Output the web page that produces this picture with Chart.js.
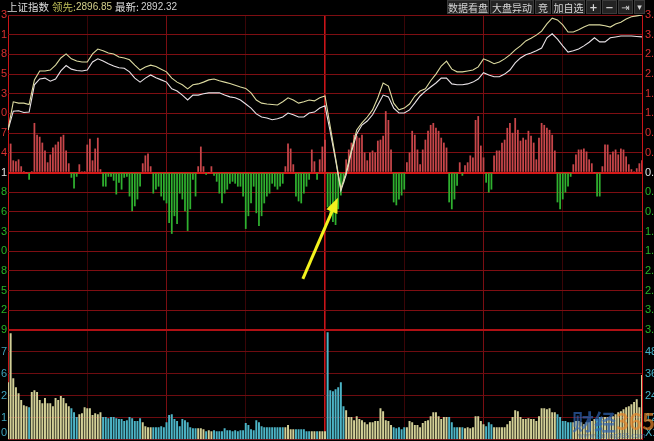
<!DOCTYPE html>
<html><head><meta charset="utf-8">
<script src="https://cdn.jsdelivr.net/npm/chart.js@4.4.1/dist/chart.umd.min.js"></script>
<style>
html,body{margin:0;padding:0;background:#000;}
#wrap{position:relative;width:654px;height:441px;overflow:hidden;background:#000;}
#c{position:absolute;left:0;top:0;}
.t{position:absolute;top:0;height:14px;line-height:14px;white-space:nowrap;font-family:"Liberation Sans",Arial,sans-serif;font-size:10px;}
.cn{font-family:"Noto Sans CJK SC",sans-serif;font-size:10.5px;}
.btn{position:absolute;top:0;height:14px;line-height:13px;background:#232323;border:1px solid #3a3a3a;color:#d6d6d6;font-family:"Noto Sans CJK SC",sans-serif;font-size:10px;text-align:center;box-sizing:border-box;white-space:nowrap;overflow:hidden;}
.wm{position:absolute;font-family:"Noto Sans CJK SC",sans-serif;font-weight:bold;opacity:.7;white-space:nowrap;}
</style></head>
<body><div id="wrap">
<canvas id="c" width="654" height="441"></canvas>
<div class="t cn" style="left:7px;color:#dcdcdc">上证指数</div>
<div class="t cn" style="left:52px;color:#c2c25a">领先:</div>
<div class="t" style="left:76px;color:#d4d08c">2896.85</div>
<div class="t cn" style="left:115px;color:#dcdcdc">最新:</div>
<div class="t" style="left:141px;color:#cfcfcf">2892.32</div>
<div class="btn" style="left:447px;width:42px">数据看盘</div>
<div class="btn" style="left:490px;width:44px">大盘异动</div>
<div class="btn" style="left:535px;width:16px">竞</div>
<div class="btn" style="left:552px;width:33px">加自选</div>
<div class="btn" style="left:586px;width:15px;font-family:'DejaVu Sans';font-weight:bold">+</div>
<div class="btn" style="left:602px;width:15px;font-family:'DejaVu Sans';font-weight:bold">−</div>
<div class="btn" style="left:618px;width:15px;font-family:'DejaVu Sans';font-size:10px">⇥</div>
<div class="btn" style="left:634px;width:11px;font-family:'DejaVu Sans';font-size:9px">▾</div>
<div class="wm" style="left:572px;top:404px;font-size:22px;color:#2f64b4">财经<span style="color:#e8862a">365</span></div>
<div class="wm" style="left:578px;top:430px;font-size:7px;color:#3a6aae;font-weight:normal">www.caijing365.com</div>
</div>
<script>
// ---- data ----
const MINUTES = 240;                 // 9:30-11:30 / 13:00-15:00, one bar per minute
const LINE_STEP = 2;                 // price lines sampled every 2 minutes
// index change (%) — white line (上证指数)
const PRICE_WHITE = [
0.95,1.37,1.38,1.34,1.35,1.96,2.09,2.11,2.04,2.09,
2.27,2.39,2.31,2.28,2.27,2.29,2.47,2.54,2.49,2.43,
2.38,2.34,2.33,2.25,2.11,2.02,2.11,2.18,2.12,2.07,
2.02,1.87,1.82,1.73,1.62,1.73,1.73,1.76,1.78,1.78,
1.78,1.73,1.69,1.67,1.62,1.53,1.44,1.31,1.24,1.22,
1.18,1.20,1.24,1.33,1.29,1.24,1.24,1.33,1.35,1.44,
1.49,0.91,0.28,-0.41,-0.05,0.46,0.86,1.06,1.15,1.29,
1.51,1.73,1.69,1.44,1.33,1.33,1.40,1.55,1.71,1.82,
1.91,2.00,2.11,2.11,1.98,1.96,1.96,1.98,2.02,2.09,
2.23,2.18,2.14,2.14,2.20,2.29,2.45,2.56,2.63,2.67,
2.72,2.78,3.01,3.10,2.98,2.83,2.69,2.72,2.76,2.83,
2.91,3.01,2.92,2.92,3.01,3.03,3.05,3.05,3.05,3.04,
3.03];
// leading line (领先), %
const PRICE_YELLOW = [
0.95,1.58,1.55,1.55,1.52,2.07,2.27,2.27,2.29,2.40,
2.56,2.65,2.54,2.49,2.47,2.47,2.65,2.76,2.72,2.67,
2.65,2.58,2.56,2.52,2.40,2.29,2.36,2.40,2.37,2.31,
2.25,2.11,2.02,1.96,1.87,1.96,1.98,2.02,2.07,2.09,
2.05,2.02,1.99,1.95,1.91,1.88,1.78,1.62,1.55,1.53,
1.52,1.51,1.58,1.67,1.62,1.55,1.58,1.62,1.60,1.67,
1.71,1.02,0.33,-0.37,0.01,0.50,0.95,1.11,1.24,1.40,
1.67,2.00,1.93,1.55,1.40,1.44,1.53,1.71,1.82,1.87,
2.05,2.20,2.38,2.49,2.31,2.25,2.25,2.27,2.29,2.36,
2.54,2.49,2.43,2.47,2.54,2.63,2.74,2.83,2.94,3.00,
3.07,3.16,3.32,3.45,3.41,3.30,3.14,3.14,3.19,3.25,
3.30,3.30,3.30,3.28,3.25,3.32,3.36,3.43,3.48,3.50,
3.52];
// buy/sell strength bars (red up / green down)
const STRENGTH = [
0,29,12,11,13,6,1,0,-7,1,
50,38,36,30,22,10,18,25,28,31,
36,38,22,9,-5,-16,-4,8,1,1,
28,34,12,24,35,3,-14,-14,-4,-4,
-8,-22,-10,-17,-5,-4,-24,-39,-34,-27,
-14,9,17,19,6,-21,-17,-14,-24,-28,
-31,-51,-62,-44,-52,-21,-27,-39,-59,-37,
-7,-24,6,26,6,-2,0,6,-3,-9,
-21,-31,-21,-17,-11,-9,-11,-14,-14,-24,
-57,-44,-31,-14,-41,-54,-44,-31,-24,-21,
-11,-14,-17,-14,-11,6,29,24,8,-24,
-29,-31,-21,-14,-7,23,11,-7,13,26,
33,-35,-43,-50,-53,-37,-23,-10,13,23,
30,38,37,35,38,20,12,20,22,20,
32,33,37,62,53,23,-30,-33,-27,-23,
-17,10,20,42,38,23,8,23,33,42,
48,50,45,42,35,30,25,-30,-37,-27,
-13,10,-3,7,10,17,15,53,57,27,
15,-10,-20,-17,17,22,22,30,33,45,
50,40,55,43,32,35,33,42,37,30,
13,35,50,48,45,43,38,22,-30,-37,
-27,-20,-14,-4,8,18,23,23,24,21,
13,9,0,-24,-24,6,28,28,18,21,
23,18,24,23,16,8,3,1,4,9,
12];
// volume per minute
const VOLUME = [
31.2,58.1,33.4,28.5,25.2,21.4,18.6,18.1,17.5,25.8,
26.8,25.8,21.4,19.7,22.5,19.7,19.7,18.1,22.5,21.4,
23.6,22.5,19.7,18.1,17.0,14.8,12.1,13.7,14.2,17.5,
17.0,17.0,13.2,14.2,13.7,14.8,12.1,12.1,11.5,12.1,
12.1,11.5,11.0,11.0,9.9,10.4,12.1,11.5,9.9,9.9,
11.5,9.3,7.1,6.6,6.6,6.6,6.6,6.6,7.1,6.6,
9.3,13.2,13.7,11.0,9.9,7.1,11.0,10.4,9.3,6.6,
6.0,6.0,6.0,6.0,5.5,4.4,4.9,4.4,4.9,4.4,
4.4,4.4,6.0,4.9,4.9,4.4,4.9,4.4,4.9,4.9,
8.8,7.7,5.5,4.9,10.4,9.3,7.1,6.6,6.6,6.6,
6.6,6.6,6.6,6.6,6.6,6.6,7.7,5.5,5.5,5.5,
5.5,5.5,5.5,4.4,4.4,4.4,4.4,4.4,4.4,4.4,
4.4,58.6,26.8,26.3,27.4,28.5,31.2,18.1,15.9,12.1,
12.1,10.4,12.6,11.0,10.4,9.3,8.2,9.3,9.3,9.9,
9.9,17.0,15.3,10.4,9.9,7.7,6.6,6.0,6.6,5.5,
6.6,6.6,9.9,9.3,7.7,7.7,6.6,8.8,9.9,10.4,
12.6,14.8,14.8,12.6,11.0,12.1,12.1,12.1,9.3,6.6,
6.6,6.6,6.6,6.0,6.6,6.0,6.6,12.6,12.6,9.9,
8.2,7.1,9.3,8.2,6.6,6.6,6.6,6.6,6.6,8.2,
9.9,12.1,15.9,15.3,12.1,11.0,11.0,11.5,11.0,11.0,
9.9,12.6,17.0,17.0,16.4,17.0,14.8,14.8,13.7,12.1,
9.9,9.9,9.3,9.3,9.3,9.9,9.9,9.3,8.2,9.3,
9.3,9.9,11.0,11.0,12.1,12.1,12.1,12.1,12.1,12.6,
13.7,14.8,15.3,16.4,17.5,18.1,19.2,20.3,21.9,17.5,
35.1];
// tick labels (as visible, clipped at the window edge)
const TIME_GRID = [0,30,60,90,120,150,180,210,240];
const STRENGTH_TICKS = [160,140,120,100,80,60,40,20,0,-20,-40,-60,-80,-100,-120,-140,-160];
const LEFT_PRICE_LABELS = ['3','1','8','5','3','0','7','4','1','8','6','3','0','8','5','2','9'];
const PCT_TICKS = [3.52,3.08,2.64,2.20,1.76,1.32,0.88,0.44,0,-0.44,-0.88,-1.32,-1.76,-2.20,-2.64,-3.08,-3.52];
const VOL_TICKS = [60,48,36,24,12,0];
const LEFT_VOL_LABELS = ['','7','6','2','1','0'];
const RIGHT_VOL_LABELS = ['','48','36','24','12','X100'];

// ---- styles ----
const GRID = '#7a0e12', GRID_FAINT = '#3a0507', GRID_HI = '#c81418';
const TXT_RED = '#d83030', TXT_GREEN = '#26b526', TXT_WHITE = '#e2e2e2', TXT_VOL = '#3ea4bc';
const FONT = {family:'"Liberation Sans", Arial, sans-serif', size:11};
function fixW(w){ return s => { s.width = w; s.paddingTop = 0; s.paddingBottom = 0; }; }
function setTicks(arr){ return s => { s.ticks = arr.map(v => ({value:v})); }; }
function tv(c){ return (c && c.tick) ? c.tick.value : null; }

const arrowPlugin = {
  id:'arrow',
  afterDatasetsDraw(chart){
    const xs = chart.scales.x, ys = chart.scales.yPriceR;
    let mi = 0;
    PRICE_WHITE.forEach((v,i) => { if (v < PRICE_WHITE[mi]) mi = i; });
    const tx = xs.getPixelForValue(mi*LINE_STEP) - 3, ty = ys.getPixelForValue(PRICE_WHITE[mi]) + 7;
    const fx = tx - 35, fy = ty + 81;
    const ang = Math.atan2(ty - fy, tx - fx);
    const ctx = chart.ctx;
    ctx.save();
    ctx.strokeStyle = '#f2f21e'; ctx.fillStyle = '#f2f21e'; ctx.lineWidth = 3;
    ctx.beginPath(); ctx.moveTo(fx, fy);
    ctx.lineTo(tx - 12*Math.cos(ang), ty - 12*Math.sin(ang)); ctx.stroke();
    ctx.beginPath(); ctx.moveTo(tx, ty);
    ctx.lineTo(tx - 15*Math.cos(ang) + 6*Math.sin(ang), ty - 15*Math.sin(ang) - 6*Math.cos(ang));
    ctx.lineTo(tx - 15*Math.cos(ang) - 6*Math.sin(ang), ty - 15*Math.sin(ang) + 6*Math.cos(ang));
    ctx.closePath(); ctx.fill();
    ctx.restore();
  }
};

new Chart(document.getElementById('c'), {
  type:'bar',
  data:{ datasets:[
    { type:'line', label:'领先', yAxisID:'yPriceR', order:0,
      data: PRICE_YELLOW.map((v,i) => ({x:i*LINE_STEP, y:v})),
      borderColor:'#dcdaa0', borderWidth:1.1, pointRadius:0, tension:0 },
    { type:'line', label:'上证指数', yAxisID:'yPriceR', order:0,
      data: PRICE_WHITE.map((v,i) => ({x:i*LINE_STEP, y:v})),
      borderColor:'#e8e2e6', borderWidth:1.1, pointRadius:0, tension:0 },
    { type:'bar', label:'强弱', yAxisID:'yPrice', order:1, grouped:false,
      data: STRENGTH.map((v,i) => ({x:i, y:v})), barThickness:1.1,
      backgroundColor: c => (STRENGTH[c.dataIndex] >= 0 ? '#c8464a' : '#2fb02f') },
    { type:'bar', label:'成交量', yAxisID:'yVol', order:1, grouped:false,
      data: VOLUME.map((v,i) => ({x:i, y:v})), barThickness:1.3,
      backgroundColor: c => (STRENGTH[c.dataIndex] >= 0 ? '#d2cf96' : '#4cb4c6') }
  ]},
  options:{
    responsive:false, animation:false, events:[],
    layout:{ padding:{top:15,left:0,right:0,bottom:1.5}, autoPadding:false },
    plugins:{ legend:{display:false}, tooltip:{enabled:false} },
    scales:{
      x:{ type:'linear', position:'bottom', min:0, max:MINUTES, offset:false,
        afterBuildTicks: setTicks(TIME_GRID),
        afterFit: s => { s.height = 0; s.paddingLeft = 0; s.paddingRight = 0; },
        ticks:{display:false}, border:{display:false},
        grid:{ drawTicks:false, offset:false,
          color: c => { const v = tv(c); if (v === null) return GRID; return (v===0||v===120||v===240) ? GRID_HI : (v%60===0 ? GRID : GRID_FAINT); },
          lineWidth: c => (tv(c)===120 ? 1.6 : 1) } },
      yPrice:{ type:'linear', position:'left', stack:'L', stackWeight:315, weight:1,
        min:-160, max:160, afterBuildTicks: setTicks(STRENGTH_TICKS), afterFit: fixW(8),
        border:{display:false},
        ticks:{ padding:1, autoSkip:false, font:FONT,
          callback: v => LEFT_PRICE_LABELS[Math.round((160 - v)/20)],
          color: c => { const v = tv(c); return v === null ? TXT_WHITE : (v > 0 ? TXT_RED : v < 0 ? TXT_GREEN : TXT_WHITE); } },
        grid:{ drawTicks:false,
          color: c => { const v = tv(c); return v===0 ? '#d81818' : v===-160 ? '#b01014' : '#7e0e12'; },
          lineWidth: c => { const v = tv(c); return (v===0 || v===-160) ? 2 : 1; } } },
      yVol:{ type:'linear', position:'left', stack:'L', stackWeight:109.5, weight:0,
        min:0, max:60, afterBuildTicks: setTicks(VOL_TICKS), afterFit: fixW(8),
        border:{display:false},
        ticks:{ padding:1, autoSkip:false, font:FONT,
          callback: v => { const s = LEFT_VOL_LABELS[Math.round((60 - v)/12)]; return v===0 ? [s,''] : s; },
          color: TXT_VOL },
        grid:{ drawTicks:false, color: c => (tv(c)===60 ? 'rgba(0,0,0,0)' : '#6e0c10') } },
      yPriceR:{ type:'linear', position:'right', stack:'R', stackWeight:315, weight:0,
        min:-3.52, max:3.52, afterBuildTicks: setTicks(PCT_TICKS), afterFit: fixW(12),
        border:{display:false}, grid:{display:false, drawTicks:false},
        ticks:{ padding:3, autoSkip:false, font:FONT,
          callback: v => Math.abs(v).toFixed(2) + '%',
          color: c => { const v = tv(c); return v === null ? TXT_WHITE : (v > 0.001 ? TXT_RED : v < -0.001 ? TXT_GREEN : TXT_WHITE); } } },
      yVolR:{ type:'linear', position:'right', stack:'R', stackWeight:109.5, weight:1,
        min:0, max:60, afterBuildTicks: setTicks(VOL_TICKS), afterFit: fixW(12),
        border:{display:false}, grid:{display:false, drawTicks:false},
        ticks:{ padding:3, autoSkip:false, font:FONT,
          callback: v => { const s = RIGHT_VOL_LABELS[Math.round((60 - v)/12)]; return v===0 ? [s,''] : s; },
          color: '#46b2c8' } }
    }
  },
  plugins:[arrowPlugin]
});
</script>
</body></html>
